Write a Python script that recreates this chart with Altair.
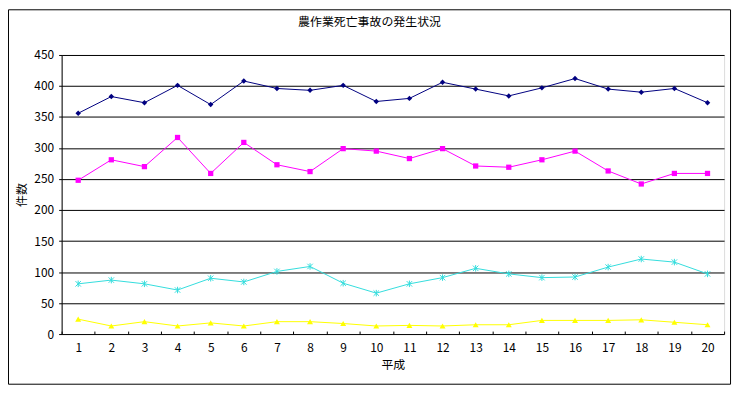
import altair as alt
import pandas as pd

years = list(range(1, 21))
total = [356, 383, 373, 401, 370, 408, 396, 393, 401, 375, 380, 406, 395, 384, 397, 412, 395, 390, 396, 373]
machine = [248, 281, 270, 317, 259, 309, 273, 262, 299, 295, 283, 299, 271, 269, 281, 295, 263, 242, 259, 259]
other = [81, 87, 81, 71, 90, 84, 101, 109, 82, 66, 81, 91, 106, 97, 91, 92, 108, 121, 116, 97]
facility = [24, 13, 20, 13, 18, 13, 20, 20, 17, 13, 14, 13, 15, 15, 22, 22, 22, 23, 19, 15]

chart_title = "農作業死亡事故の発生状況"
series_names = ["合計", "農業機械作業", "機械・施設以外", "農業用施設作業"]
series_values = [total, machine, other, facility]
series_colors = ["#000080", "#FF00FF", "#33DDDD", "#FFFF00"]
series_shapes = ["diamond", "square", "M-1,-1L1,1M-1,1L1,-1M0,-1.2L0,1.2", "triangle-up"]
series_sizes = [30, 28, 30, 36]
series_filled = [True, True, False, True]

FONT = "Noto Sans CJK JP"

rows = []
for name, vals in zip(series_names, series_values):
    for y, v in zip(years, vals):
        rows.append({"year": y, "series": name, "value": v})
df = pd.DataFrame(rows)

x_enc = alt.X(
    "year:O",
    title="平成",
    scale=alt.Scale(paddingInner=0, paddingOuter=0),
    axis=alt.Axis(
        labelAngle=0,
        tickBand="extent",
        tickSize=3,
        offset=-3,
        domain=False,
        tickColor="black",
        labelPadding=9,
        titlePadding=6,
        labelFont=FONT,
        titleFont=FONT,
        labelFontSize=12,
        titleFontSize=12,
        titleFontWeight="normal",
        labelColor="black",
        titleColor="black",
        grid=False,
    ),
)
y_enc = alt.Y(
    "value:Q",
    title="件数",
    scale=alt.Scale(domain=[0, 450], nice=False),
    axis=alt.Axis(
        values=list(range(0, 451, 50)),
        tickSize=3,
        tickColor="black",
        domainColor="black",
        gridColor="black",
        gridWidth=1,
        labelPadding=5,
        titlePadding=5,
        labelFont=FONT,
        titleFont=FONT,
        labelFontSize=12,
        titleFontSize=12,
        titleFontWeight="normal",
        labelColor="black",
        titleColor="black",
    ),
)

layers = []
for name, col, shp, sz, fl in zip(series_names, series_colors, series_shapes, series_sizes, series_filled):
    sub = df[df["series"] == name]
    base = alt.Chart(sub).encode(x=x_enc, y=y_enc)
    layers.append(base.mark_line(color=col, strokeWidth=1))
    if fl:
        layers.append(base.mark_point(shape=shp, size=sz, filled=True, color=col, opacity=1))
    else:
        layers.append(base.mark_point(shape=shp, size=sz, filled=False, color=col, strokeWidth=1, opacity=1))

one = alt.Data(values=[{"t": chart_title}])
border = alt.Chart(one).mark_rect(
    fill=None, stroke="black", strokeWidth=1
).encode(
    x=alt.value(-53.5), x2=alt.value(673.5), y=alt.value(-45.5), y2=alt.value(331.5)
)
title_mark = alt.Chart(one).mark_text(
    font=FONT, fontSize=12, color="black", align="center", baseline="middle"
).encode(
    text="t:N", x=alt.value(310), y=alt.value(-33)
)

chart = alt.layer(border, title_mark, *layers).properties(
    width=667,
    height=281,
    autosize=alt.AutoSizeParams(type="none"),
    padding={"left": 54, "top": 46, "right": 12, "bottom": 52},
).configure_view(
    fill="#C0C0C0", stroke="#808080", strokeWidth=1
).configure(background="white")

chart.save("out.html", embed_options={"renderer": "svg", "actions": False})
